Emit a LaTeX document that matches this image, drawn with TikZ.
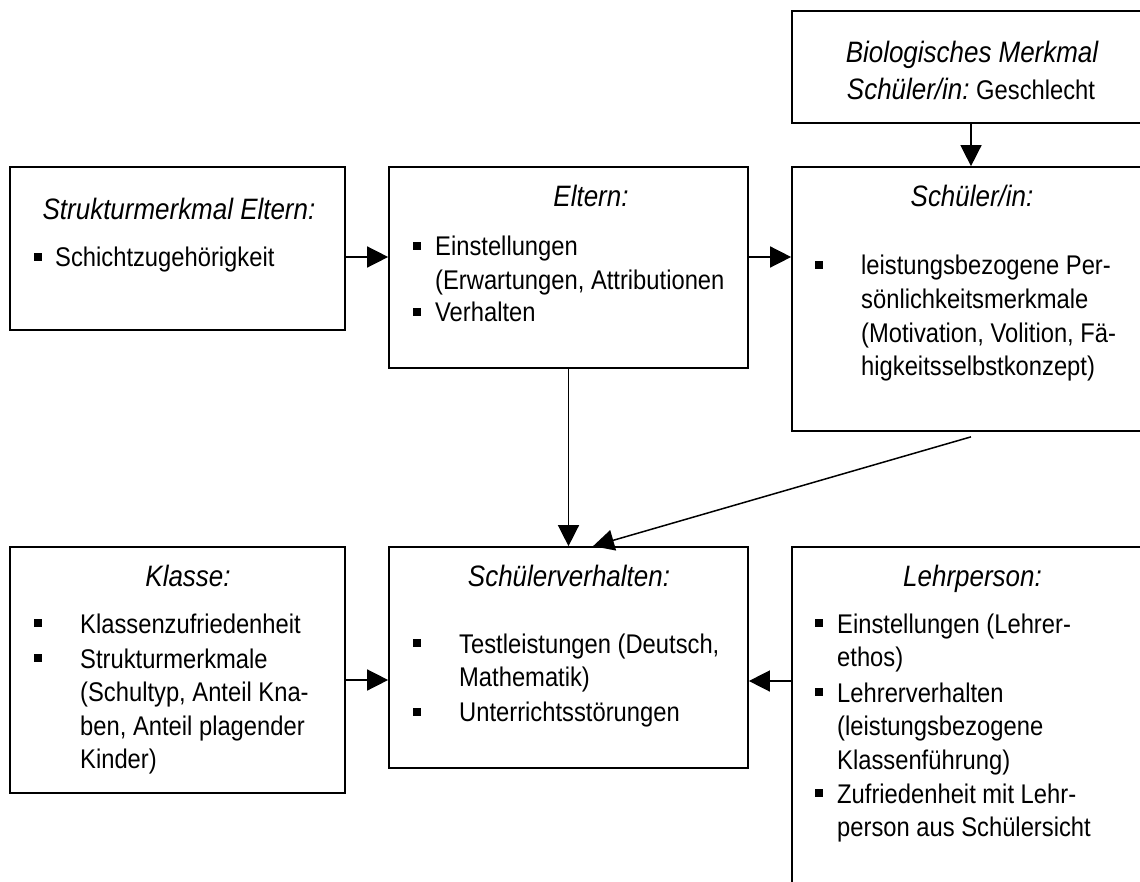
\documentclass[tikz,border=0pt]{standalone}
\usepackage{fontspec}
\setmainfont[FakeStretch=0.88]{Liberation Sans}
\usetikzlibrary{arrows.meta}

% small square list marker
\newcommand\sqmark{\raisebox{6pt}{\rule{8pt}{8pt}}}
% left-aligned block of lines; its baseline is the first line's baseline
\newcommand\linesblock[1]{\vtop{\halign{##\hfil\cr#1\crcr}}}

\tikzset{
  box/.style={draw, line width=1.7pt, rectangle, inner sep=0pt},
  arr/.style={line width=1.5pt, -{Triangle[length=21pt,width=21pt]}},
  heading/.style={font=\fontsize{29.5}{37}\selectfont\itshape, inner sep=0pt, anchor=base},
  body/.style={font=\fontsize{27}{33.6}\selectfont, inner sep=0pt, anchor=base west},
  marker/.style={inner sep=0pt, anchor=base west},
}

\begin{document}
\begin{tikzpicture}[x=1pt, y=-1pt]
\useasboundingbox (0,0) rectangle (1140,882);
\clip (0,0) rectangle (1140,882);

% boxes
\node[box, minimum width=358pt, minimum height=112pt] (bio)      at (971,67)      {};
\node[box, minimum width=358pt, minimum height=264pt] (schueler) at (971,299)     {};
\node[box, minimum width=335pt, minimum height=163pt] (struk)    at (177.5,248.5) {};
\node[box, minimum width=359pt, minimum height=201pt] (eltern)   at (568.5,267.5) {};
\node[box, minimum width=335pt, minimum height=246pt] (klasse)   at (177.5,670)   {};
\node[box, minimum width=359pt, minimum height=221pt] (verh)     at (568.5,657.5) {};
\node[box, minimum width=358pt, minimum height=360pt] (lehr)     at (971,727)     {};

% Biologisches Merkmal
\node[heading] (bioA) at (972,63) {Biologisches Merkmal};
\node[heading] (bioB) at (971,100) {Schüler/in:{\upshape\fontsize{27}{33.6}\selectfont\ Geschlecht}};

% Strukturmerkmal Eltern
\node[heading] (strukT) at (179,220) {Strukturmerkmal Eltern:};
\node[marker] (strukM1) at (34,266.7) {\sqmark};
\node[body] (strukL1) at (55,266.7) {\linesblock{Schichtzugehörigkeit}};

% Eltern
\node[heading] (eltT) at (591,207) {Eltern:};
\node[marker] (eltM1) at (413,256) {\sqmark};
\node[body] (eltL1) at (435,256) {\linesblock{Einstellungen\cr(Erwartungen, Attributionen}};
\node[marker] (eltM2) at (413,322) {\sqmark};
\node[body] (eltL2) at (435,322) {\linesblock{Verhalten}};

% Schüler/in
\node[heading] (schT) at (972,207) {Schüler/in:};
\node[marker] (schM1) at (815,275) {\sqmark};
\node[body] (schL1) at (861,275) {\linesblock{leistungsbezogene Per-\cr sönlichkeitsmerkmale\cr(Motivation, Volition, Fä-\cr higkeitsselbstkonzept)}};

% Klasse
\node[heading] (klT) at (188,586.7) {Klasse:};
\node[marker] (klM1) at (34,633) {\sqmark};
\node[body] (klL1) at (80,633) {\linesblock{Klassenzufriedenheit}};
\node[marker] (klM2) at (34,668) {\sqmark};
\node[body] (klL2) at (80,668) {\linesblock{Strukturmerkmale\cr(Schultyp, Anteil Kna-\cr ben, Anteil plagender\cr Kinder)}};

% Schülerverhalten
\node[heading] (vhT) at (569,586.7) {Schülerverhalten:};
\node[marker] (vhM1) at (413,653) {\sqmark};
\node[body] (vhL1) at (459,653) {\linesblock{Testleistungen (Deutsch,\cr Mathematik)}};
\node[marker] (vhM2) at (413,721.7) {\sqmark};
\node[body] (vhL2) at (459,721.7) {\linesblock{Unterrichtsstörungen}};

% Lehrperson
\node[heading] (lpT) at (972.5,586.7) {Lehrperson:};
\node[marker] (lpM1) at (815,633) {\sqmark};
\node[body] (lpL1) at (837,633) {\linesblock{Einstellungen (Lehrer-\cr ethos)}};
\node[marker] (lpM2) at (815,702) {\sqmark};
\node[body] (lpL2) at (837,702) {\linesblock{Lehrerverhalten\cr(leistungsbezogene\cr Klassenführung)}};
\node[marker] (lpM3) at (815,803) {\sqmark};
\node[body] (lpL3) at (837,803) {\linesblock{Zufriedenheit mit Lehr-\cr person aus Schülersicht}};

% connectors
\draw[arr] (bio.south) -- (schueler.north);
\draw[arr] (struk.east |- 0,257) -- (eltern.west |- 0,257);
\draw[arr] (eltern.east |- 0,257) -- (schueler.west |- 0,257);
\draw[arr] (eltern.south) -- (verh.north);
\draw[arr] ([yshift=-5pt]schueler.south) -- (verh.north -| 593,0);
\draw[arr] (klasse.east |- 0,680) -- (verh.west |- 0,680);
\draw[arr] (lehr.west |- 0,681) -- (verh.east |- 0,681);
\end{tikzpicture}
\end{document}
